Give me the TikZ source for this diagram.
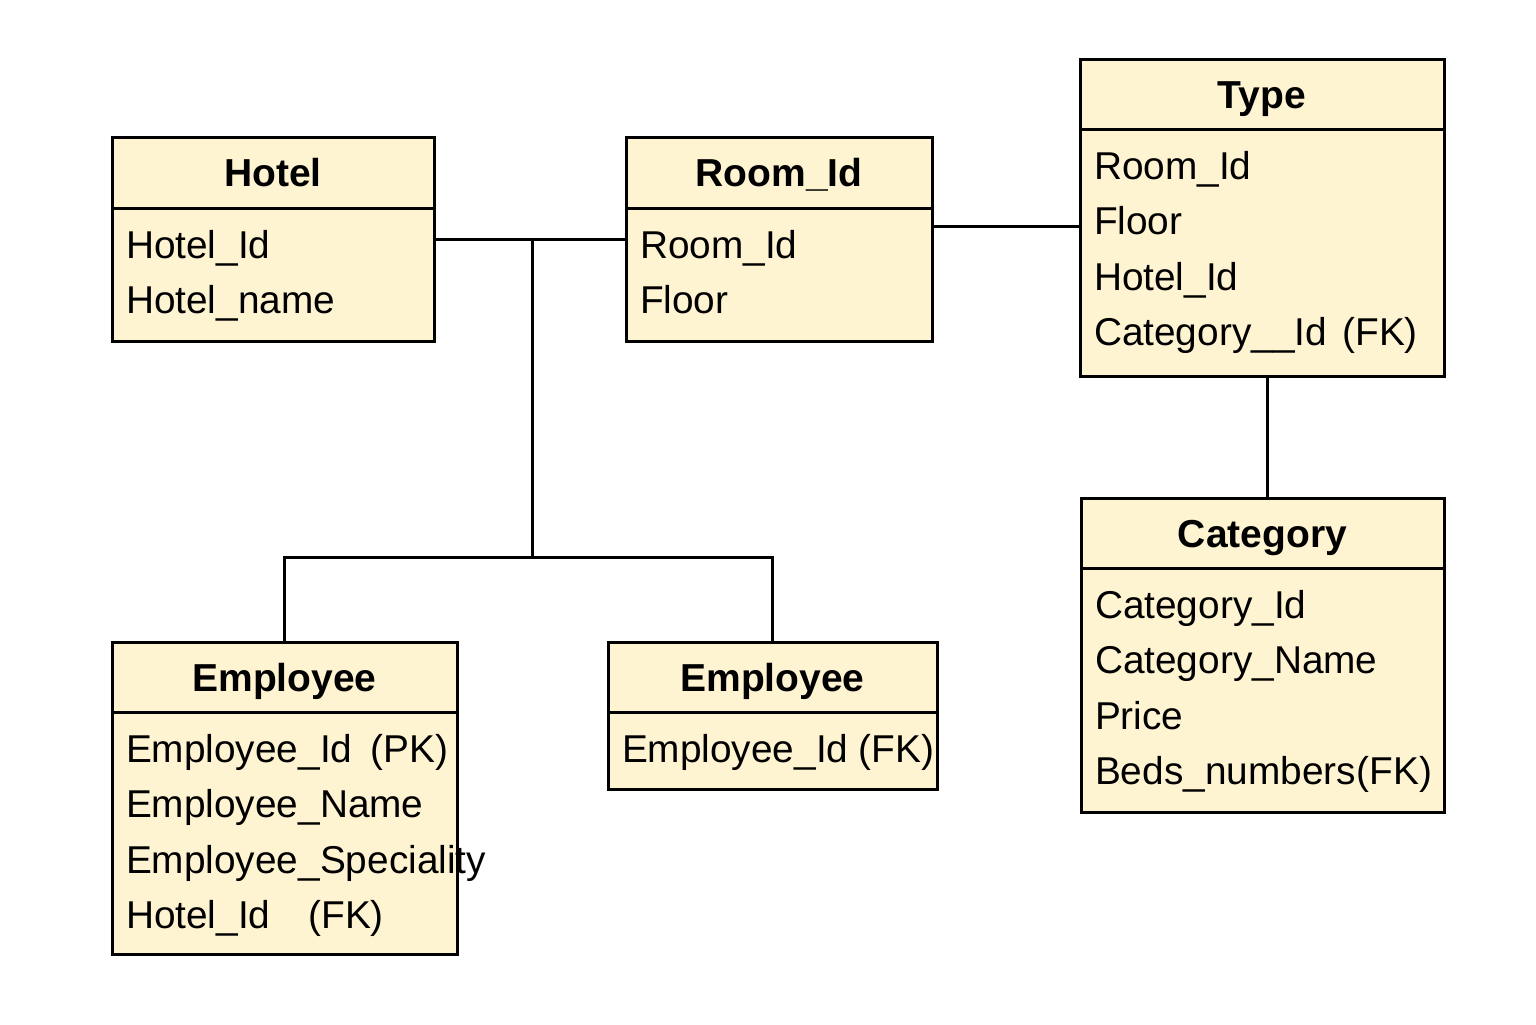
\documentclass[tikz,border=0pt]{standalone}
\usepackage{fontspec}
\setmainfont{Liberation Sans}
\usetikzlibrary{positioning}

\definecolor{cream}{HTML}{FFF4D2}

% fixed-height field list, first baseline 25pt below the top
\newcommand{\fields}[3]{\parbox[c][#2][t]{#1}{\leftskip=7pt\rule{0pt}{25pt}#3}}

\tikzset{
  tablehead/.style={draw, fill=cream, line width=1.5pt, inner sep=0pt, outer sep=0pt,
    anchor=north west, text height=14pt, text depth=0pt,
    font=\fontsize{19.5}{23}\selectfont\bfseries},
  tablebody/.style={draw, fill=cream, line width=1.5pt, inner sep=0pt, outer sep=0pt,
    font=\fontsize{19.4}{27.75}\selectfont},
  link/.style={line width=1.5pt}
}

\begin{document}
\begin{tikzpicture}[x=0.5pt, y=-0.5pt]

    \useasboundingbox (0,0) rectangle (1536,1024);

    % --- Hotel ---
    \node[tablehead, minimum width=161pt, minimum height=35.5pt] (hotelHead) at (112,137) {Hotel};
    \node[tablebody, below=0pt of hotelHead] (hotelBody)
      {\fields{161pt}{66.5pt}{Hotel\_Id\\Hotel\_name}};

    % --- Room_Id ---
    \node[tablehead, minimum width=153pt, minimum height=35.5pt] (roomHead) at (626,137) {Room\_Id};
    \node[tablebody, below=0pt of roomHead] (roomBody)
      {\fields{153pt}{66.5pt}{Room\_Id\\Floor}};

    % --- Type ---
    \node[tablehead, minimum width=182pt, minimum height=35pt] (typeHead) at (1080,59) {Type};
    \node[tablebody, below=0pt of typeHead] (typeBody)
      {\fields{182pt}{123.5pt}{Room\_Id\\Floor\\Hotel\_Id\\Category\_\_Id\hspace{0.4em}(FK)}};

    % --- Category ---
    \node[tablehead, minimum width=181.5pt, minimum height=35pt] (catHead) at (1081,498) {Category};
    \node[tablebody, below=0pt of catHead] (catBody)
      {\fields{181.5pt}{122pt}{Category\_Id\\Category\_Name\\Price\\Beds\_numbers\hspace{0.02em}(FK)}};

    % --- Employee (left) ---
    \node[tablehead, minimum width=172.5pt, minimum height=35pt] (empAHead) at (112,642) {Employee};
    \node[tablebody, below=0pt of empAHead] (empABody)
      {\fields{172.5pt}{121pt}{Employee\_Id\hspace{0.47em}(PK)\\Employee\_Name\\Employee\_Speciality\\Hotel\_Id\hspace{0.98em}(FK)}};

    % --- Employee (right) ---
    \node[tablehead, minimum width=164.5pt, minimum height=35pt] (empBHead) at (608,642) {Employee};
    \node[tablebody, below=0pt of empBHead] (empBBody)
      {\fields{164.5pt}{38.5pt}{Employee\_Id\hspace{0.26em}(FK)}};

    % Junctions of the connectors
    \coordinate (hr) at (532,239);
    \coordinate (bus) at (532,557);
    \coordinate (rt) at (1000,226);
    \coordinate (tc) at (1267,440);

    % Connectors
    \draw[link] (hotelBody.east |- hr) -- (roomBody.west |- hr);
    \draw[link] (hr) -- (bus);
    \draw[link] (empAHead.north) |- (empBHead.north |- bus) -- (empBHead.north);
    \draw[link] (roomBody.east |- rt) -- (typeBody.west |- rt);
    \draw[link] (typeBody.south -| tc) -- (catHead.north -| tc);

\end{tikzpicture}
\end{document}
